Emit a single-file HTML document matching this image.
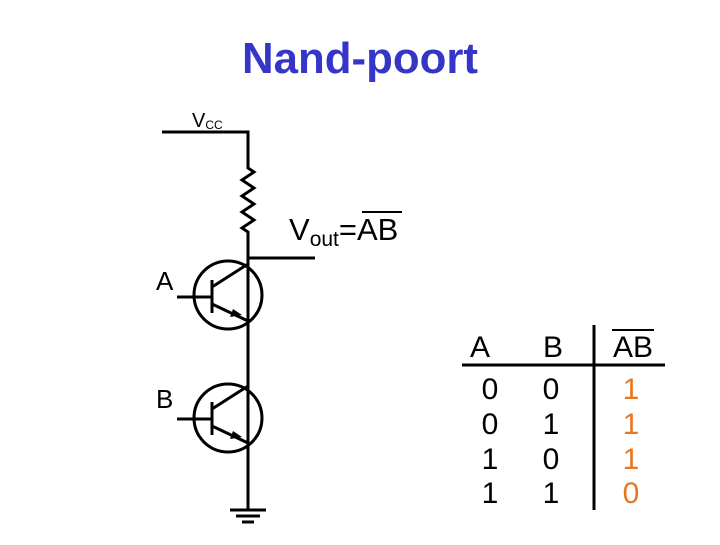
<!DOCTYPE html>
<html><head><style>
body{margin:0;background:#fff;width:720px;height:540px;overflow:hidden}
svg text{font-family:"Liberation Sans",sans-serif}
</style></head><body>
<svg width="720" height="540" viewBox="0 0 720 540">
<text x="360" y="73" text-anchor="middle" font-size="44" font-weight="bold" fill="#3535c8" textLength="236" lengthAdjust="spacingAndGlyphs">Nand-poort</text>
<g stroke="#000" stroke-width="3" fill="none">
<polyline points="162,132 248,132 248,168 254,172 242,180 254,188 242,196 254,204 242,212 254,220 242,228 248,232 248,510"/>
<line x1="248" y1="258" x2="315" y2="258"/>
<circle cx="228" cy="295" r="34"/>
<line x1="177" y1="297" x2="212" y2="297"/>
<line x1="212" y1="280" x2="212" y2="313"/>
<line x1="212" y1="287" x2="248" y2="264"/>
<line x1="212" y1="304" x2="248" y2="321"/>
<circle cx="228" cy="418" r="34"/>
<line x1="177" y1="419" x2="212" y2="419"/>
<line x1="212" y1="402" x2="212" y2="435"/>
<line x1="212" y1="409" x2="248" y2="386"/>
<line x1="212" y1="426" x2="248" y2="443"/>
<line x1="230" y1="510" x2="266" y2="510"/>
<line x1="236" y1="516" x2="260" y2="516"/>
<line x1="242" y1="522" x2="254" y2="522"/>
<line x1="462" y1="365" x2="665" y2="365"/>
<line x1="594" y1="325" x2="594" y2="510"/>
<line x1="612" y1="330" x2="654" y2="330" stroke-width="2"/>
<line x1="362" y1="212" x2="402" y2="212" stroke-width="2"/>
</g>
<polygon points="242,315 230,317 233,309" fill="#000"/>
<polygon points="242,437 230,439 233,431" fill="#000"/>
<text x="192" y="127" font-size="20">V<tspan font-size="12" dy="2">CC</tspan></text>
<text x="289" y="240" font-size="31">V<tspan font-size="21" dy="6">out</tspan><tspan dy="-6">=AB</tspan></text>
<text x="156" y="290" font-size="26">A</text>
<text x="156" y="408" font-size="26">B</text>
<g font-size="30" text-anchor="middle">
<text x="480" y="357">A</text><text x="553" y="357">B</text><text x="633" y="357">AB</text>
<text x="490" y="399">0</text><text x="551" y="399">0</text>
<text x="490" y="434">0</text><text x="551" y="434">1</text>
<text x="490" y="469">1</text><text x="551" y="469">0</text>
<text x="490" y="503">1</text><text x="551" y="503">1</text>
<g fill="#e87722"><text x="631" y="399">1</text><text x="631" y="434">1</text><text x="631" y="469">1</text><text x="631" y="503">0</text></g>
</g>
</svg>
</body></html>
